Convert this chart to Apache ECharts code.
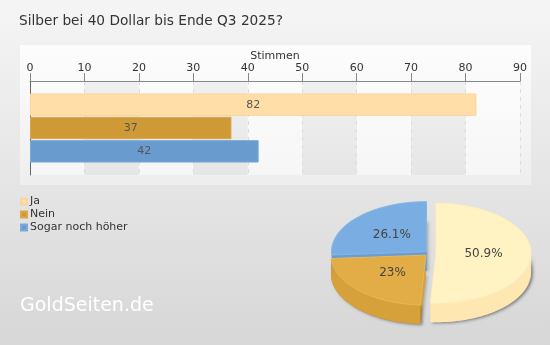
<!DOCTYPE html>
<html><head><meta charset="utf-8">
<script src="https://cdn.jsdelivr.net/npm/echarts@6/dist/echarts.min.js"></script>
<style>html,body{margin:0;padding:0;}#c{width:550px;height:345px;}</style>
</head><body><div id="c"></div>
<script>
const titleText = 'Silber bei 40 Dollar bis Ende Q3 2025?';
const categories = ['Ja', 'Nein', 'Sogar noch höher'];
const votes = [82, 37, 42];
const axisMax = 90;
const axisInterval = 10;
const axisName = 'Stimmen';
const watermark = 'GoldSeiten.de';

const barColors = ['#ffdea8', '#cf9a35', '#6a9bcf'];
const barBorders = ['#f8d59c', '#d9a848', '#7aaad9'];
const pieTop = ['#fff3c4', '#e2ac47', '#7aaee2'];
const pieSide = ['#ffe7b2', '#d6a03a', '#6a9dd2'];
const pieBorder = ['#ffeebb', '#e8b85a', '#86b6e6'];
const pieExplode = [8, 3, 2];
const FONT = 'DejaVu Sans';

const chart = echarts.init(document.getElementById('c'), null, {renderer: 'canvas'});

const barSeries = categories.map((name, i) => ({
  name, type: 'bar', stack: 'v', xAxisIndex: 1, yAxisIndex: 1,
  barCategoryGap: '4%',
  data: categories.map((c, j) => j === i ? votes[i] : '-'),
  itemStyle: {color: barColors[i], borderColor: barBorders[i], borderWidth: 1},
  label: {show: true, position: 'inside', color: '#555', fontSize: 11, fontFamily: FONT},
  emphasis: {disabled: true}
}));

const total = votes.reduce((a, b) => a + b, 0);
let acc = 0;
const slices = votes.map(v => {
  const a0 = 90 - acc / total * 360; acc += v;
  const a1 = 90 - acc / total * 360;
  return {a0, a1};
});
const P = {cx: 428, cy: 253, rx: 95, ry: 50, depth: 19};
function pct(v) { const p = Math.round(v / total * 1000) / 10; return (p % 1 === 0 ? p.toFixed(0) : p.toFixed(1)) + '%'; }

function renderPie(params, api) {
  const i = params.dataIndex;
  const s = slices[i];
  const rad = Math.PI / 180;
  const mid = (s.a0 + s.a1) / 2;
  const off = pieExplode[i];
  const cx = P.cx + off * Math.cos(mid * rad);
  const cy = P.cy - off * Math.sin(mid * rad);
  const pt = (a, dy) => [cx + P.rx * Math.cos(a * rad), cy - P.ry * Math.sin(a * rad) + (dy || 0)];
  const arc = (from, to, dy) => {
    const n = Math.max(2, Math.ceil(Math.abs(from - to) / 2));
    const r = [];
    for (let k = 0; k <= n; k++) r.push(pt(from + (to - from) * k / n, dy));
    return r;
  };
  const D = P.depth;
  const children = [];
  const shadow = {shadowBlur: 3, shadowColor: 'rgba(0,0,0,0.22)', shadowOffsetX: 2, shadowOffsetY: 1};
  children.push({type: 'polygon', z2: 1, shape: {points: [[cx, cy + D]].concat(arc(s.a0, s.a1, D))},
    style: Object.assign({fill: pieSide[i]}, shadow)});
  [s.a0, s.a1].forEach(a => {
    const e = pt(a);
    children.push({type: 'polygon', z2: 2, shape: {points: [[cx, cy], e, [e[0], e[1] + D], [cx, cy + D]]},
      style: {fill: pieSide[i]}});
  });
  [[-180, 0], [-540, -360]].forEach(f => {
    const lo = Math.max(s.a1, f[0]), hi = Math.min(s.a0, f[1]);
    if (hi > lo) {
      const top = arc(hi, lo, 0);
      const bot = arc(lo, hi, D);
      children.push({type: 'polygon', z2: 3, shape: {points: top.concat(bot)},
        style: Object.assign({fill: pieSide[i]}, shadow)});
    }
  });
  children.push({type: 'polygon', z2: 10, shape: {points: [[cx, cy]].concat(arc(s.a0, s.a1, 0))},
    style: {fill: pieTop[i], stroke: pieBorder[i], lineWidth: 1}});
  const lp = [cx + 0.5 * P.rx * Math.cos(mid * rad), cy - 0.5 * P.ry * Math.sin(mid * rad)];
  children.push({type: 'text', z2: 20, x: lp[0], y: lp[1],
    style: {text: pct(votes[i]), fill: '#444', font: '12px "' + FONT + '"', align: 'center', verticalAlign: 'middle'}});
  return {type: 'group', children};
}

const option = {
  animation: false,
  backgroundColor: {type: 'linear', x: 0, y: 0, x2: 0, y2: 1,
    colorStops: [{offset: 0, color: '#f5f5f5'}, {offset: 1, color: '#d7d7d7'}]},
  textStyle: {fontFamily: FONT},
  title: {text: titleText, left: 14, top: 9,
    textStyle: {fontSize: 13.7, fontWeight: 'normal', color: '#333', fontFamily: FONT}},
  legend: {orient: 'vertical', left: 20, top: 196, itemWidth: 6, itemHeight: 6, itemGap: 2, padding: 0,
    icon: 'rect', selectedMode: false,
    textStyle: {fontSize: 11, color: '#333', fontFamily: FONT, padding: [0, 0, 0, -2]},
    data: categories},
  graphic: [
    {type: 'rect', z: -10, shape: {x: 20, y: 45, width: 511, height: 140},
      style: {fill: {type: 'linear', x: 0, y: 0, x2: 0, y2: 1,
        colorStops: [{offset: 0, color: '#fdfdfd'}, {offset: 1, color: '#eeeeee'}]}}},
    {type: 'text', z: 100, left: 20, top: 297,
      style: {text: watermark, fill: '#ffffff', font: '19px "' + FONT + '"'}}
  ],
  grid: [
    {left: 30, right: 30, top: 81, height: 94},
    {left: 30, right: 30, top: 93, height: 70}
  ],
  xAxis: [
    {type: 'value', gridIndex: 0, position: 'top', min: 0, max: axisMax, interval: axisInterval,
      name: axisName, nameLocation: 'middle', nameGap: 17,
      nameTextStyle: {fontSize: 11, color: '#333', fontFamily: FONT},
      axisLine: {show: true, lineStyle: {color: '#888', width: 1}},
      axisTick: {show: true, length: 8, lineStyle: {color: '#888'}},
      axisLabel: {fontSize: 11, color: '#333', margin: 7, fontFamily: FONT},
      splitLine: {show: true, lineStyle: {type: [4, 4], color: '#dddddd'}},
      splitArea: {show: true, areaStyle: {color: ['rgba(255,255,255,0.45)', 'rgba(0,0,0,0.035)']}}},
    {type: 'value', gridIndex: 1, min: 0, max: axisMax, show: false}
  ],
  yAxis: [
    {type: 'category', gridIndex: 0, data: [''], axisLine: {show: true, lineStyle: {color: '#666'}},
      axisTick: {show: false}, axisLabel: {show: false}, splitLine: {show: false}},
    {type: 'category', gridIndex: 1, inverse: true, data: categories, show: false}
  ],
  series: barSeries.concat([{
    type: 'custom', name: 'pie', coordinateSystem: 'none', renderItem: renderPie,
    data: votes.map((v, i) => ({name: categories[i] + ' ', value: v})),
    silent: true, z: 5
  }])
};
chart.setOption(option);
</script>
</body></html>
